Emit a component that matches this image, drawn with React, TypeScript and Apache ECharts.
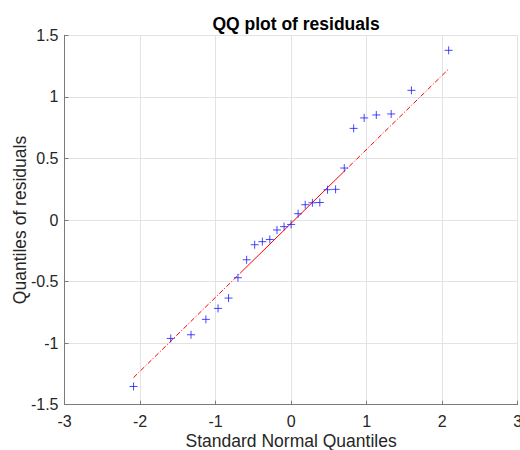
import React, { useEffect, useRef } from "react";
import * as echarts from "echarts";

const normalQuantiles = [-2.086, -1.593, -1.325, -1.128, -0.967, -0.828, -0.704, -0.589, -0.482, -0.38, -0.282, -0.187, -0.093, 0, 0.093, 0.187, 0.282, 0.38, 0.482, 0.589, 0.704, 0.828, 0.967, 1.128, 1.325, 1.593, 2.086];
const residualQuantiles = [-1.352, -0.962, -0.932, -0.807, -0.718, -0.634, -0.469, -0.323, -0.201, -0.176, -0.158, -0.081, -0.054, -0.036, 0.051, 0.124, 0.14, 0.142, 0.246, 0.249, 0.422, 0.744, 0.829, 0.853, 0.861, 1.053, 1.378];
const xTicks = [-3, -2, -1, 0, 1, 2, 3];
const yTicks = [-1.5, -1, -0.5, 0, 0.5, 1, 1.5];

function prctile(arr: number[], p: number) {
  const s = [...arr].sort((a, b) => a - b);
  const n = s.length;
  const pos = p * n + 0.5; // 1-based
  const lo = Math.floor(pos);
  const f = pos - lo;
  const a = s[Math.max(0, Math.min(n - 1, lo - 1))];
  const b = s[Math.max(0, Math.min(n - 1, lo))];
  return a + f * (b - a);
}

export default function App() {
  const ref = useRef<HTMLDivElement>(null);
  useEffect(() => {
    document.body.style.margin = "0";
    const chart = echarts.init(ref.current!, null, { renderer: "svg" });
    const qx1 = prctile(normalQuantiles, 0.25);
    const qx3 = prctile(normalQuantiles, 0.75);
    const qy1 = prctile(residualQuantiles, 0.25);
    const qy3 = prctile(residualQuantiles, 0.75);
    const slope = (qy3 - qy1) / (qx3 - qx1);
    const f = (x: number) => qy1 + slope * (x - qx1);
    const xmin = Math.min(...normalQuantiles);
    const xmax = Math.max(...normalQuantiles);
    const axisColor = "#7a7a7a";
    const textColor = "#262626";
    const font = "Liberation Sans, Arial, Helvetica, sans-serif";
    chart.setOption({
      animation: false,
      title: {
        text: "QQ plot of residuals",
        left: 291,
        top: 10,
        textAlign: "center",
        textStyle: { fontFamily: font, fontSize: 17.5, fontWeight: "bold", color: "#000" },
      },
      grid: { left: 64.5, top: 35.3, right: 2.3, bottom: 45.3, containLabel: false, outerBoundsMode: "none" },
      xAxis: {
        type: "value",
        min: xTicks[0],
        max: xTicks[xTicks.length - 1],
        interval: 1,
        name: "Standard Normal Quantiles",
        nameLocation: "middle",
        nameGap: 27,
        nameMoveOverlap: false,
        nameTextStyle: { fontFamily: font, fontSize: 17.5, color: textColor },
        axisLine: { show: true, onZero: false, lineStyle: { color: axisColor, width: 1 } },
        axisTick: { show: true, inside: true, length: 4, lineStyle: { color: axisColor } },
        axisLabel: { fontFamily: font, fontSize: 16, color: textColor, margin: 9, hideOverlap: false },
        splitLine: { show: true, lineStyle: { color: "#e3e3e3", width: 1 } },
      },
      yAxis: {
        type: "value",
        min: yTicks[0],
        max: yTicks[yTicks.length - 1],
        interval: 0.5,
        name: "Quantiles of residuals",
        nameLocation: "middle",
        nameGap: 36,
        nameMoveOverlap: false,
        nameTextStyle: { fontFamily: font, fontSize: 17.5, color: textColor },
        axisLine: { show: true, onZero: false, lineStyle: { color: axisColor, width: 1 } },
        axisTick: { show: true, inside: true, length: 4, lineStyle: { color: axisColor } },
        axisLabel: { fontFamily: font, fontSize: 16, color: textColor, margin: 6 },
        splitLine: { show: true, lineStyle: { color: "#e3e3e3", width: 1 } },
      },
      series: [
        {
          type: "line",
          data: [[xmin, f(xmin)], [qx1, f(qx1)]],
          symbol: "none",
          lineStyle: { color: "#ff0000", width: 1, type: [5, 2, 1, 2] },
          silent: true,
        },
        {
          type: "line",
          data: [[qx3, f(qx3)], [xmax, f(xmax)]],
          symbol: "none",
          lineStyle: { color: "#ff0000", width: 1, type: [5, 2, 1, 2] },
          silent: true,
        },
        {
          type: "line",
          data: [[qx1, f(qx1)], [qx3, f(qx3)]],
          symbol: "none",
          lineStyle: { color: "#ff0000", width: 1, type: "solid" },
          silent: true,
        },
        {
          type: "scatter",
          data: normalQuantiles.map((x, i) => [x, residualQuantiles[i]]),
          symbol: "path://M0 5L10 5M5 0L5 10",
          symbolSize: 8,
          itemStyle: { color: "rgba(0,0,0,0)", borderColor: "#1a1aff", borderWidth: 1 },
          silent: true,
          z: 5,
        },
      ],
    });
    return () => chart.dispose();
  }, []);
  return <div ref={ref} style={{ width: 520, height: 450, background: "#fff" }} />;
}
